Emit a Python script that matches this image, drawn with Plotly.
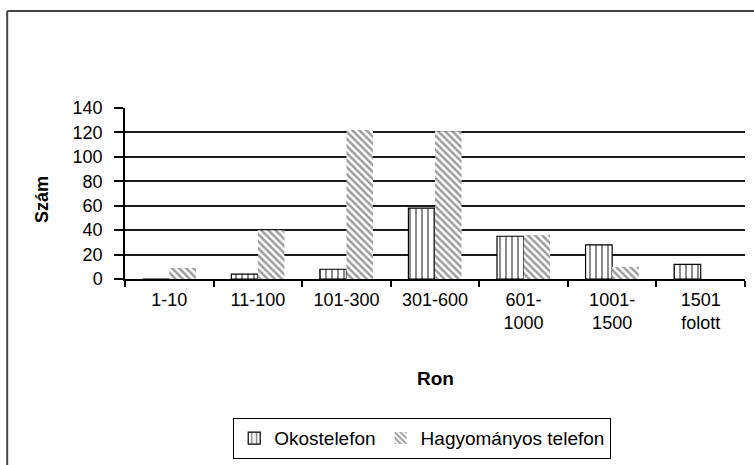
import plotly.graph_objects as go

# Price bands (Ron) and counts per phone type
categories = ["1-10", "11-100", "101-300", "301-600", "601-<br>1000", "1001-<br>1500", "1501<br>folott"]
okostelefon = [0, 4, 8, 58, 35, 28, 12]
hagyomanyos = [9, 40, 122, 121, 36, 10, 0]
y_ticks = [0, 20, 40, 60, 80, 100, 120, 140]
grid_values = [20, 40, 60, 80, 100, 120]

FONT = "Liberation Sans, Arial, sans-serif"
TOP, BOTTOM = 108, 186
PLOT_H = 465 - TOP - BOTTOM


def py(pixel_y):
    """Paper y for a pixel row of the page."""
    return (465 - BOTTOM - pixel_y) / PLOT_H


fig = go.Figure()
fig.add_trace(go.Bar(
    name="Okostelefon", x=categories, y=okostelefon,
    marker=dict(color="white", line=dict(color="black", width=1.2),
                pattern=dict(shape="|", fgcolor="black", bgcolor="white", size=6, solidity=0.3)),
))
fig.add_trace(go.Bar(
    name="Hagyományos telefon", x=categories, y=hagyomanyos,
    marker=dict(color="white", line=dict(width=0),
                pattern=dict(shape="\\", fgcolor="#3a3a3a", bgcolor="white", size=5, solidity=0.5)),
))
# invisible trace carrying the secondary axis used for the gridlines
fig.add_trace(go.Scatter(x=[categories[0]], y=[0], yaxis="y2", mode="markers",
                         marker=dict(opacity=0), showlegend=False, hoverinfo="skip"))

fig.update_layout(
    width=754, height=465,
    margin=dict(l=125, r=9, t=TOP, b=BOTTOM, autoexpand=False),
    paper_bgcolor="white", plot_bgcolor="white",
    barmode="group", bargap=0.4, bargroupgap=0,
    font=dict(family=FONT, color="black", size=18),
    xaxis=dict(
        showline=True, linecolor="black", linewidth=2,
        ticks="outside", tickson="boundaries", ticklen=6, tickcolor="black", tickwidth=1.5,
        tickfont=dict(size=18), showgrid=False, ticklabelstandoff=3,
    ),
    yaxis=dict(
        range=[0, 140], tickvals=y_ticks, showline=True, linecolor="black", linewidth=1.5,
        ticks="outside", ticklen=9, tickcolor="black", tickwidth=1.5,
        tickfont=dict(size=18), showgrid=False, zeroline=False, ticklabelstandoff=8,
    ),
    yaxis2=dict(
        range=[0, 140], overlaying="y", tickvals=grid_values, showticklabels=False,
        showgrid=True, gridcolor="#1a1a1a", gridwidth=1.8, zeroline=False, showline=False,
    ),
    legend=dict(
        orientation="h", xref="container", yref="container",
        x=233 / 754, y=1 - 418 / 465, xanchor="left", yanchor="top",
        bordercolor="black", borderwidth=1.2, font=dict(size=19),
        itemwidth=30, traceorder="normal",
    ),
    showlegend=True,
)

# axis titles
fig.add_annotation(text="<b>Ron</b>", xref="paper", yref="paper", x=0.5, y=py(378),
                   xanchor="center", yanchor="middle", showarrow=False, font=dict(size=19))
fig.add_annotation(text="<b>Szám</b>", xref="paper", yref="paper", x=(42 - 125) / 620, y=py(200),
                   xanchor="center", yanchor="middle", showarrow=False, textangle=-90,
                   font=dict(size=18))

# outer frame (left and top edges)
fig.add_shape(type="line", xref="paper", yref="paper", x0=-0.19, x1=-0.19, y0=py(11), y1=py(470),
              line=dict(color="#444444", width=2))
fig.add_shape(type="line", xref="paper", yref="paper", x0=-0.19, x1=1.1, y0=py(11), y1=py(11),
              line=dict(color="#444444", width=2))

fig.write_html("out.html")
